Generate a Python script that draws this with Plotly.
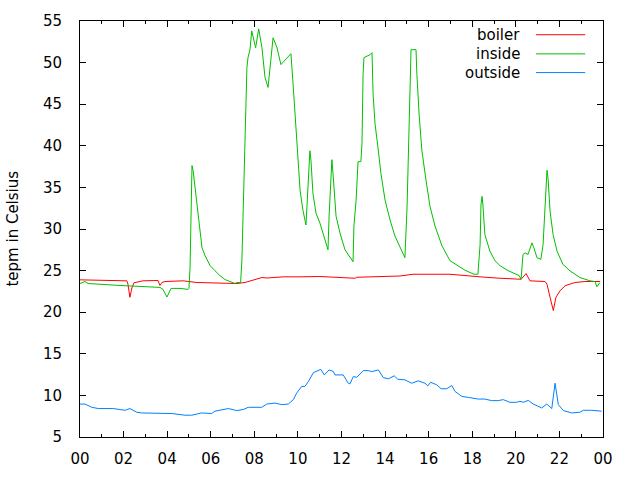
import plotly.graph_objects as go

series_names = ["boiler", "inside", "outside"]
series_colors = ["#ff0000", "#00c000", "#0080ff"]

boiler_h = [0.00, 0.92, 1.53, 2.15, 2.20, 2.29, 2.39, 2.48, 2.89, 3.58, 3.67, 3.76, 3.90, 4.73, 5.37, 6.10,
            7.20, 7.57, 7.80, 8.03, 8.17, 8.35, 8.58, 8.95, 9.32, 10.10, 11.01, 12.62, 12.70, 14.68, 15.28,
            16.98, 17.67, 18.36, 19.27, 20.24, 20.47, 20.65, 21.34, 21.43, 21.57, 21.72, 21.84, 22.03, 22.26,
            22.71, 23.17, 23.86]
boiler_v = [23.89, 23.81, 23.81, 23.77, 23.37, 21.79, 23.0, 23.54, 23.77, 23.81, 23.21, 23.57, 23.69, 23.77,
            23.57, 23.51, 23.45, 23.57, 23.75, 23.93, 24.05, 24.17, 24.11, 24.20, 24.25, 24.25, 24.29, 24.08,
            24.20, 24.35, 24.56, 24.56, 24.37, 24.25, 24.08, 23.96, 24.64, 23.77, 23.69, 23.37, 21.79, 20.20,
            21.79, 22.58, 23.18, 23.57, 23.69, 23.69]

inside_h = [0.00, 0.23, 0.37, 0.92, 1.84, 2.75, 3.44, 3.67, 3.81, 3.99, 4.18, 4.59, 4.96, 5.00, 5.05, 5.09,
            5.14, 5.19, 5.23, 5.32, 5.41, 5.51, 5.60, 5.74, 5.97, 6.19, 6.42, 6.65, 6.88, 7.11, 7.19, 7.37,
            7.43, 7.48, 7.53, 7.57, 7.62, 7.66, 7.71, 7.80, 7.88, 8.06, 8.20, 8.35, 8.49, 8.63, 8.86, 9.04,
            9.22, 9.68, 9.77, 9.91, 10.00, 10.10, 10.23, 10.37, 10.55, 10.60, 10.69, 10.83, 11.01, 11.24,
            11.38, 11.43, 11.56, 11.61, 11.75, 11.93, 12.16, 12.53, 12.57, 12.67, 12.76, 12.89, 12.94, 12.99,
            13.03, 13.31, 13.40, 13.45, 13.54, 13.67, 13.81, 14.00, 14.23, 14.45, 14.78, 14.91, 15.01, 15.10,
            15.19, 15.42, 15.46, 15.56, 15.69, 15.88, 16.06, 16.29, 16.61, 16.98, 17.35, 17.67, 18.08, 18.26,
            18.36, 18.40, 18.45, 18.49, 18.58, 18.81, 19.04, 19.27, 19.64, 20.01, 20.15, 20.24, 20.33, 20.42,
            20.56, 20.74, 20.83, 20.97, 21.15, 21.25, 21.34, 21.43, 21.48, 21.57, 21.71, 21.89, 22.16, 22.49,
            22.94, 23.40, 23.63, 23.72, 23.86]
inside_v = [23.45, 23.69, 23.45, 23.33, 23.21, 23.10, 22.98, 22.98, 22.74, 21.82, 22.86, 22.86, 22.74, 22.86,
            25.36, 30.12, 37.62, 37.02, 36.07, 33.69, 31.90, 29.88, 27.74, 26.79, 25.60, 25.00, 24.40, 23.93,
            23.69, 23.45, 23.57, 23.57, 26.31, 31.79, 37.26, 42.62, 46.79, 49.40, 50.60, 51.55, 53.81, 51.79,
            54.05, 51.79, 48.21, 47.02, 52.98, 51.79, 49.76, 51.07, 47.74, 42.62, 39.05, 34.64, 32.26, 30.48,
            39.40, 38.21, 34.29, 31.90, 30.71, 28.69, 27.50, 31.55, 38.33, 36.67, 31.55, 29.52, 27.50, 26.07,
            30.36, 33.45, 38.10, 38.10, 40.24, 48.57, 50.60, 50.95, 51.19, 46.19, 42.62, 39.88, 36.67, 33.45,
            31.07, 29.17, 27.14, 26.55, 32.74, 43.45, 51.55, 51.55, 48.57, 43.81, 39.40, 35.83, 32.74, 30.36,
            27.98, 26.19, 25.60, 25.04, 24.56, 24.56, 28.13, 32.89, 33.93, 32.89, 29.32, 27.35, 26.19, 25.60,
            25.00, 24.56, 24.40, 23.96, 26.94, 27.14, 26.94, 28.33, 27.74, 26.55, 26.35, 28.13, 32.89, 37.06,
            36.07, 32.14, 29.32, 27.35, 25.75, 24.96, 24.17, 23.77, 23.69, 23.06, 23.57]

outside_h = [0.00, 0.23, 0.54, 0.84, 1.53, 2.07, 2.29, 2.60, 2.83, 3.90, 4.21, 4.82, 5.13, 5.58, 6.04, 6.19,
             6.81, 7.19, 7.49, 7.72, 8.34, 8.57, 8.95, 9.25, 9.56, 9.79, 9.94, 10.17, 10.32, 10.48, 10.71,
             11.05, 11.21, 11.43, 11.62, 11.70, 12.08, 12.31, 12.39, 12.54, 12.70, 13.00, 13.23, 13.39, 13.69,
             13.92, 14.15, 14.42, 14.58, 14.91, 15.22, 15.52, 15.83, 15.96, 16.09, 16.37, 16.57, 16.83, 17.06,
             17.21, 17.52, 17.82, 18.28, 18.58, 18.89, 19.19, 19.42, 19.73, 20.04, 20.19, 20.34, 20.57, 20.80,
             21.19, 21.42, 21.65, 21.72, 21.80, 21.87, 21.95, 22.18, 22.56, 22.94, 23.10, 23.48, 23.94]
outside_v = [8.96, 8.96, 8.57, 8.42, 8.42, 8.21, 8.42, 7.98, 7.89, 7.89, 7.82, 7.62, 7.62, 7.89, 7.82, 8.10,
             8.42, 8.18, 8.30, 8.57, 8.57, 8.96, 9.08, 8.89, 8.96, 9.49, 10.27, 11.07, 11.07, 11.67, 12.74,
             13.13, 12.46, 13.06, 12.89, 12.46, 12.46, 11.46, 11.39, 12.26, 12.18, 12.98, 12.98, 12.86, 13.06,
             12.14, 11.99, 12.35, 11.94, 11.87, 11.46, 11.75, 11.46, 11.15, 11.58, 11.27, 10.80, 10.80, 11.19,
             10.48, 9.88, 9.76, 9.56, 9.56, 9.37, 9.37, 9.49, 9.17, 9.17, 9.29, 9.17, 9.40, 8.96, 8.49, 8.96,
             8.42, 10.08, 11.46, 10.27, 8.89, 8.18, 7.89, 7.98, 8.21, 8.21, 8.10]

x_tickvals = list(range(0, 25, 2))
x_ticktext = ["00", "02", "04", "06", "08", "10", "12", "14", "16", "18", "20", "22", "00"]
y_tickvals = list(range(5, 56, 5))
y_title = "tepm in Celsius"

FONT = "DejaVu Sans"

fig = go.Figure()
for name, color, xs, ys in zip(series_names, series_colors,
                               [boiler_h, inside_h, outside_h],
                               [boiler_v, inside_v, outside_v]):
    fig.add_trace(go.Scatter(x=xs, y=ys, mode="lines", name=name,
                             line=dict(color=color, width=1), showlegend=False))

# gnuplot-style key: text on the left, sample line on the right
row_y = [0.967, 0.921, 0.876]
for name, color, ry in zip(series_names, series_colors, row_y):
    fig.add_annotation(xref="paper", yref="paper", x=0.845, y=ry, text=name,
                       showarrow=False, xanchor="right", yanchor="middle",
                       font=dict(family=FONT, size=15, color="#000000"))
    fig.add_shape(type="line", xref="paper", yref="paper", x0=0.872, x1=0.966, y0=ry, y1=ry,
                  line=dict(color=color, width=1))

fig.add_annotation(xref="paper", yref="paper", x=-0.129, y=0.5, text=y_title, textangle=-90,
                   showarrow=False, xanchor="center", yanchor="middle",
                   font=dict(family=FONT, size=15, color="#000000"))

fig.update_layout(
    width=640, height=480,
    margin=dict(l=80, r=37, t=21, b=39, pad=0),
    paper_bgcolor="white", plot_bgcolor="white",
    font=dict(family=FONT, size=15, color="#000000"),
    showlegend=False,
)
fig.update_xaxes(range=[0, 24], tickvals=x_tickvals, ticktext=x_ticktext,
                 showgrid=False, zeroline=False, showline=True, linecolor="black", linewidth=1,
                 mirror="ticks", ticks="inside", ticklen=6, tickcolor="black", ticklabelstandoff=8,
                 minor=dict(dtick=1, tick0=0, ticks="inside", ticklen=3, tickcolor="black", showgrid=False))
fig.update_yaxes(range=[5, 55], tickvals=y_tickvals,
                 showgrid=False, zeroline=False, showline=True, linecolor="black", linewidth=1,
                 mirror="ticks", ticks="inside", ticklen=6, tickcolor="black", ticklabelstandoff=14)

fig.write_html("out.html")
